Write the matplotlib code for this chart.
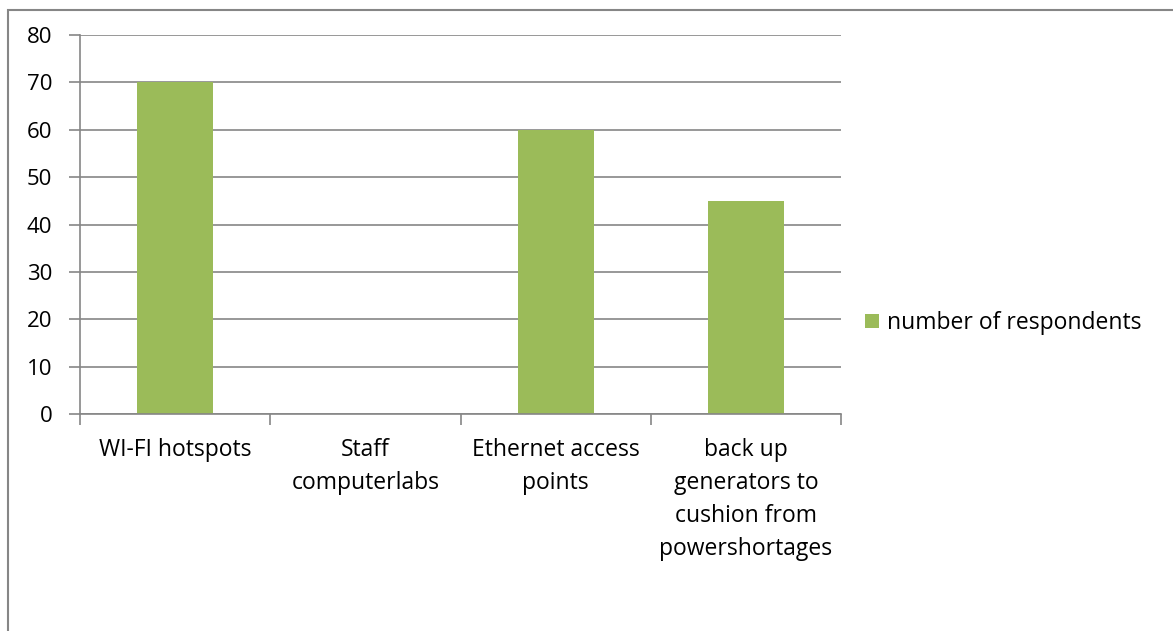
import numpy as np
import matplotlib.pyplot as plt
from matplotlib.patches import Rectangle

categories = [
    'WI-FI hotspots',
    'Staff\ncomputerlabs',
    'Ethernet access\npoints',
    'back up\ngenerators to\ncushion from\npowershortages',
]
respondents = [70, 0, 60, 45]
series_name = 'number of respondents'

plt.rcParams['font.family'] = ['Open Sans', 'DejaVu Sans']

fig = plt.figure(figsize=(11.73, 6.31), dpi=100)
ax = fig.add_axes([0.0682, 0.3439, 0.6488, 0.6006])

x_pos = np.arange(len(categories))
ax.bar(x_pos, respondents, width=0.4, color='#9bbb59', label=series_name, zorder=2)

ax.set_xlim(-0.5, len(categories) - 0.5)
ax.set_ylim(0, 80)
ax.set_yticks(np.arange(0, 81, 10))
ax.yaxis.grid(True, color='#868686', linewidth=1.2, zorder=0)

# category ticks sit between the groups, labels in the middle
ax.set_xticks(np.arange(-0.5, len(categories)), minor=False)
ax.set_xticklabels([])
ax.set_xticks(x_pos, minor=True)
ax.set_xticklabels(categories, minor=True, fontsize=16.5, linespacing=1.5,
                   va='top')
ax.tick_params(axis='x', which='minor', length=0, pad=17)
ax.tick_params(axis='x', which='major', length=8, color='#868686', width=1.2)
ax.tick_params(axis='y', length=8, color='#868686', width=1.2, labelsize=16,
               pad=12)

for side in ['top', 'right']:
    ax.spines[side].set_visible(False)
for side in ['left', 'bottom']:
    ax.spines[side].set_color('#868686')
    ax.spines[side].set_linewidth(1.2)

ax.legend(loc='center left', bbox_to_anchor=(1.02, 0.24), frameon=False,
          fontsize=16.5, handlelength=0.6, handleheight=0.6,
          handletextpad=0.35, borderaxespad=0)

# chart area border
fig.patches.append(Rectangle((8 / 1173, -0.1), 1.2, (631 - 10) / 631 + 0.1,
                             transform=fig.transFigure, fill=False,
                             edgecolor='#868686', linewidth=1.5))

plt.savefig('out.png')
